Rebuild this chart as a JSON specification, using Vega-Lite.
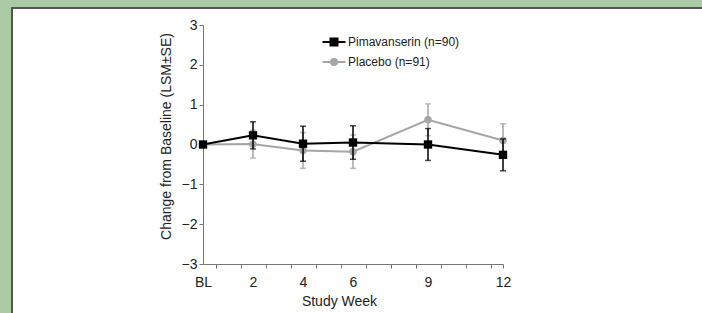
{
  "$schema": "https://vega.github.io/schema/vega-lite/v6.json",
  "width": 694,
  "height": 315,
  "autosize": {"type": "none"},
  "padding": {"left": 12, "top": 8, "right": 4, "bottom": 0},
  "background": "#abcaa5",
  "config": {
    "view": {"fill": "white", "stroke": "#555555", "strokeWidth": 2},
    "font": "Liberation Sans"
  },
  "data": {
    "values": [
      {"series": "Pimavanserin (n=90)", "week": 0, "mean": 0, "se": 0},
      {"series": "Pimavanserin (n=90)", "week": 2, "mean": 0.23, "se": 0.34},
      {"series": "Pimavanserin (n=90)", "week": 4, "mean": 0.02, "se": 0.44},
      {"series": "Pimavanserin (n=90)", "week": 6, "mean": 0.05, "se": 0.42},
      {"series": "Pimavanserin (n=90)", "week": 9, "mean": 0.0, "se": 0.4},
      {"series": "Pimavanserin (n=90)", "week": 12, "mean": -0.26, "se": 0.4},
      {"series": "Placebo (n=91)", "week": 0, "mean": 0, "se": 0},
      {"series": "Placebo (n=91)", "week": 2, "mean": 0.01, "se": 0.35},
      {"series": "Placebo (n=91)", "week": 4, "mean": -0.15, "se": 0.45},
      {"series": "Placebo (n=91)", "week": 6, "mean": -0.18, "se": 0.42},
      {"series": "Placebo (n=91)", "week": 9, "mean": 0.62, "se": 0.4},
      {"series": "Placebo (n=91)", "week": 12, "mean": 0.1, "se": 0.42}
    ]
  },
  "encoding": {
    "x": {
      "field": "week",
      "type": "quantitative",
      "scale": {"domain": [0, 12], "range": [191, 491], "nice": false, "zero": false},
      "axis": {
        "values": [0, 0.5, 1.5, 2, 2.5, 3.5, 4, 4.5, 5.5, 6, 6.5, 7.5, 8.5, 9, 9.5, 10.5, 11.5, 12],
        "labelExpr": "datum.value == 0 ? 'BL' : (indexof([2, 4, 6, 9, 12], datum.value) >= 0 ? toString(datum.value) : '')",
        "tickOpacity": {"condition": {"test": "datum.value % 1 == 0 && datum.value != 12", "value": 0}, "value": 1},
        "offset": -59,
        "grid": false,
        "domainColor": "#777777",
        "tickColor": "#777777",
        "tickSize": 4,
        "labelPadding": 7,
        "labelFontSize": 14,
        "labelColor": "#222222",
        "labelOverlap": false,
        "labelBound": false,
        "labelFlush": false,
        "title": "Study Week",
        "titleFontSize": 14,
        "titleFontWeight": "normal",
        "titleColor": "#222222",
        "titleX": 327,
        "titleY": 41,
        "titleAlign": "center",
        "titleBaseline": "alphabetic"
      }
    },
    "y": {
      "field": "mean",
      "type": "quantitative",
      "scale": {"domain": [-3, 3], "range": [256, 17], "nice": false, "zero": false},
      "axis": {
        "values": [-3, -2, -1, 0, 1, 2, 3],
        "offset": -191,
        "grid": false,
        "domainColor": "#777777",
        "tickColor": "#777777",
        "tickSize": 4,
        "labelPadding": 2,
        "labelFontSize": 14,
        "labelColor": "#222222",
        "labelOverlap": false,
        "labelBound": false,
        "labelFlush": false,
        "title": "Change from Baseline (LSM±SE)",
        "titleFontSize": 14,
        "titleFontWeight": "normal",
        "titleColor": "#222222",
        "titleAngle": -90,
        "titleX": -30,
        "titleY": 128,
        "titleAlign": "center",
        "titleBaseline": "bottom"
      }
    },
    "color": {
      "field": "series",
      "type": "nominal",
      "scale": {"domain": ["Pimavanserin (n=90)", "Placebo (n=91)"], "range": ["#000000", "#a5a5a5"]},
      "legend": {
        "orient": "none",
        "legendX": 316,
        "legendY": 28,
        "padding": 0,
        "title": null,
        "symbolSize": 100,
        "symbolStrokeWidth": 2,
        "labelFontSize": 12,
        "labelColor": "#222222",
        "labelOffset": 8,
        "rowPadding": 5,
        "encode": {
          "symbols": {
            "update": {
              "shape": {"signal": "datum.value == 'Placebo (n=91)' ? 'M-2.3,0H2.3M0.6,0A0.6,0.6 0 1,1 -0.6,0A0.6,0.6 0 1,1 0.6,0Z' : 'M-2.3,0H2.3M-0.7,-0.7H0.7V0.7H-0.7Z'"},
              "fill": {"scale": "color", "field": "value"},
              "stroke": {"scale": "color", "field": "value"},
              "strokeWidth": {"value": 2},
              "opacity": {"value": 1},
              "fillOpacity": {"value": 1}
            }
          }
        }
      }
    }
  },
  "layer": [
    {
      "transform": [{"filter": "datum.series == 'Placebo (n=91)' && datum.se > 0"}],
      "mark": {"type": "errorbar", "ticks": {"size": 6}, "thickness": 1.5},
      "encoding": {"yError": {"field": "se"}}
    },
    {
      "transform": [{"filter": "datum.series == 'Placebo (n=91)'"}],
      "mark": {"type": "line", "strokeWidth": 2}
    },
    {
      "transform": [{"filter": "datum.series == 'Placebo (n=91)'"}],
      "mark": {"type": "point", "shape": "circle", "filled": true, "size": 55, "opacity": 1}
    },
    {
      "transform": [{"filter": "datum.series == 'Pimavanserin (n=90)' && datum.se > 0"}],
      "mark": {"type": "errorbar", "ticks": {"size": 6}, "thickness": 1.5},
      "encoding": {"yError": {"field": "se"}}
    },
    {
      "transform": [{"filter": "datum.series == 'Pimavanserin (n=90)'"}],
      "mark": {"type": "line", "strokeWidth": 2}
    },
    {
      "transform": [{"filter": "datum.series == 'Pimavanserin (n=90)'"}],
      "mark": {"type": "point", "shape": "square", "filled": true, "size": 70, "opacity": 1}
    }
  ]
}
